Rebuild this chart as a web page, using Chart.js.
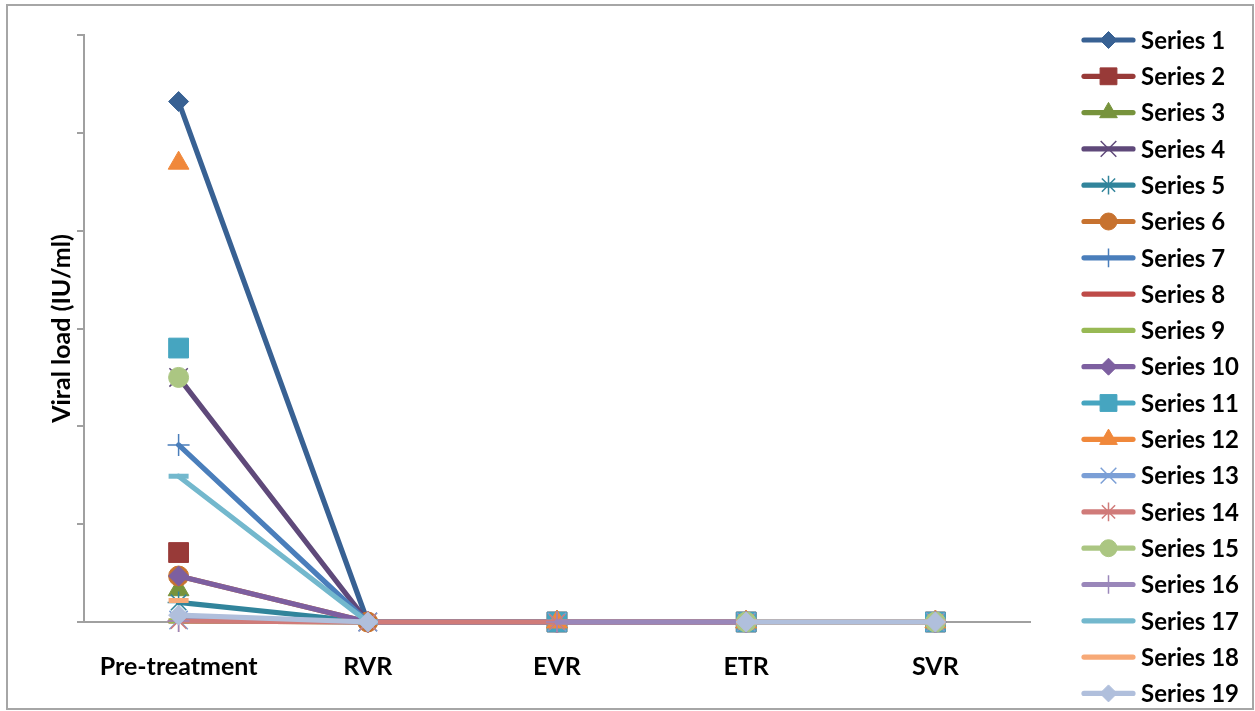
<!DOCTYPE html>
<html>
<head>
<meta charset="utf-8">
<script src="https://cdn.jsdelivr.net/npm/chart.js@4.4.1/dist/chart.umd.min.js"></script>
<style>
  html, body { margin: 0; padding: 0; background: #fff; }
  #wrap { position: relative; width: 1255px; height: 711px; overflow: hidden; }
  #frame { position: absolute; left: 6px; top: 4px; width: 1244px; height: 702px; border: 2px solid #a6a6a6; }
  #chart { position: absolute; left: 0; top: 0; }
</style>
</head>
<body>
<div id="wrap">
  <div id="frame"></div>
  <canvas id="chart" width="1255" height="711"></canvas>
</div>
<script>
// Categories (x axis)
const categories = ["Pre-treatment", "RVR", "EVR", "ETR", "SVR"];

// Y axis ticks (values are unlabeled in the source, 6 equal steps)
const yTicks = [0, 1, 2, 3, 4, 5, 6];

// Series values (null = no point)
const s1  = [5.32, 0, 0, 0, 0];
const s2  = [0.71, null, 0, 0, 0];
const s3  = [0.33, null, 0, 0, 0];
const s4  = [2.50, 0, 0, 0, 0];
const s5  = [0.20, 0, 0, 0, 0];
const s6  = [0.47, 0, 0, 0, 0];
const s7  = [1.81, 0, 0, 0, 0];
const s8  = [0.01, 0, 0, 0, 0];
const s9  = [0.01, 0, 0, 0, 0];
const s10 = [0.47, 0, 0, 0, 0];
const s11 = [2.80, null, 0, 0, 0];
const s12 = [4.69, null, 0, 0, 0];
const s13 = [0.02, 0, 0, 0, 0];
const s14 = [0.01, 0, 0, 0, 0];
const s15 = [2.50, null, null, 0, 0];
const s16 = [0.01, null, 0, 0, 0];
const s17 = [1.49, 0, null, 0, 0];
const s18 = [0.22, null, null, 0, 0];
const s19 = [0.07, 0, null, 0, 0];

const seriesValues = [s1, s2, s3, s4, s5, s6, s7, s8, s9, s10, s11, s12, s13, s14, s15, s16, s17, s18, s19];

// styles
const colors = [
  "#386193", "#983a38", "#77933c", "#5f497a", "#31849b", "#c7722f", "#4a7ebb",
  "#be4b48", "#98b954", "#7d5fa0", "#46a5c0", "#f0883b", "#7b9fd6", "#d07b79",
  "#abc682", "#9a87ba", "#73b8cd", "#f7a977", "#b0bfdc"
];
const markers = [
  "rectRot", "rect", "triangle", "crossRot", "star", "circle", "cross",
  "line", "line", "rectRot", "rect", "triangle", "crossRot", "star",
  "circle", "cross", "line", "line", "rectRot"
];
const markerRadius = { rectRot: 10, rect: 14, triangle: 12, crossRot: 13, star: 11, circle: 10, cross: 11, line: 10 };
const markerBorder = { rectRot: 1, rect: 1, triangle: 1, crossRot: 1.5, star: 1.5, circle: 1, cross: 1.5, line: 5 };
const showInLegend = { line: false };

const FONT = "Lato, 'Open Sans', sans-serif";

const datasets = seriesValues.map((vals, i) => {
  const m = markers[i];
  return {
    label: "Series " + (i + 1),
    data: vals,
    borderColor: colors[i],
    backgroundColor: colors[i],
    borderWidth: 5.2,
    borderCapStyle: "round",
    borderJoinStyle: "round",
    pointStyle: m,
    pointRadius: markerRadius[m],
    pointHoverRadius: markerRadius[m],
    pointBorderWidth: markerBorder[m],
    pointBorderColor: colors[i],
    pointBackgroundColor: colors[i],
    spanGaps: false,
    tension: 0,
    clip: false,
    order: seriesValues.length - i
  };
});

// legend drawn on the right, line + marker like the original
const sideLegend = {
  id: "sideLegend",
  afterDraw(chart) {
    const ctx = chart.ctx;
    const x0 = 1084, x1 = 1133, tx = 1141;
    ctx.save();
    chart.data.datasets.forEach((ds, i) => {
      const y = 40 + i * 36.3;
      ctx.strokeStyle = ds.borderColor;
      ctx.lineWidth = 5.2;
      ctx.lineCap = "round";
      ctx.beginPath();
      ctx.moveTo(x0, y);
      ctx.lineTo(x1, y);
      ctx.stroke();
      if (showInLegend[ds.pointStyle] !== false) {
        ctx.fillStyle = ds.pointBackgroundColor;
        ctx.strokeStyle = ds.pointBorderColor;
        ctx.lineWidth = ds.pointBorderWidth;
        ctx.lineCap = "butt";
        Chart.helpers.drawPoint(ctx, {
          pointStyle: ds.pointStyle,
          radius: ds.pointRadius * 0.85,
          rotation: 0,
          borderWidth: ds.pointBorderWidth
        }, (x0 + x1) / 2, y);
      }
      ctx.fillStyle = "#000";
      ctx.font = "bold 24px " + FONT;
      ctx.textBaseline = "middle";
      ctx.textAlign = "left";
      ctx.fillText(ds.label, tx, y + 1);
    });
    ctx.restore();
  }
};

new Chart(document.getElementById("chart"), {
  type: "line",
  data: { labels: categories, datasets: datasets },
  plugins: [sideLegend],
  options: {
    responsive: false,
    animation: false,
    events: [],
    layout: { padding: { top: 35, right: 225, bottom: 0, left: 0 } },
    plugins: {
      legend: { display: false },
      tooltip: { enabled: false }
    },
    scales: {
      x: {
        offset: true,
        grid: { display: false, drawTicks: false },
        border: { display: true, color: "#a0a0a0", width: 2 },
        ticks: {
          color: "#000",
          font: { family: FONT, size: 25, weight: "bold" },
          padding: 30,
          maxRotation: 0
        },
        afterFit(s) { s.height = 89; }
      },
      y: {
        min: yTicks[0],
        max: yTicks[yTicks.length - 1],
        afterBuildTicks(s) { s.ticks = yTicks.map(v => ({ value: v })); },
        grid: { display: true, drawOnChartArea: false, drawTicks: true, tickLength: 7, color: "#a0a0a0", lineWidth: 2 },
        border: { display: true, color: "#a0a0a0", width: 2 },
        ticks: { display: false },
        title: {
          display: true,
          text: "Viral load (IU/ml)",
          color: "#000",
          font: { family: FONT, size: 25, weight: "bold" },
          padding: { top: 47, bottom: 0 }
        },
        afterFit(s) { s.width = 84; }
      }
    }
  }
});
</script>
</body>
</html>
